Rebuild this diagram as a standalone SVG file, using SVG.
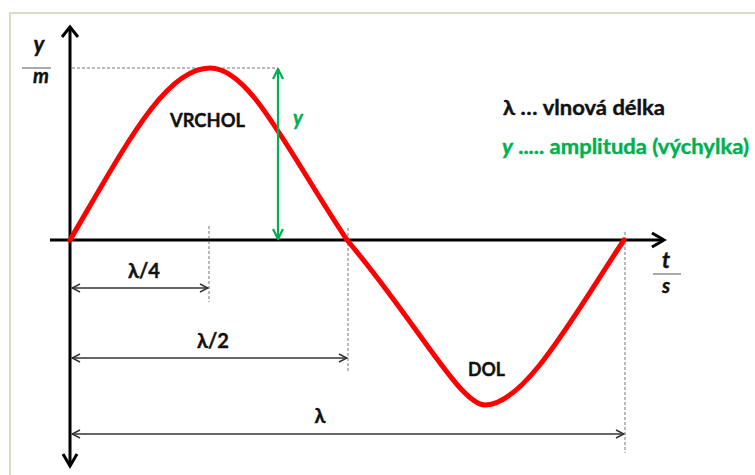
<svg xmlns="http://www.w3.org/2000/svg" width="755" height="475" viewBox="0 0 755 475">
<style>
.t{font-family:Lato,"Liberation Sans",sans-serif;font-weight:bold;fill:#111;stroke:#111;stroke-width:0.4}
.g{fill:#00B050;stroke:#00B050}
.i{font-style:italic}
.dash{stroke:#777;stroke-width:1;stroke-dasharray:3 2;fill:none}
.dim{stroke:#333;stroke-width:1.5;fill:none}
.ax{stroke:#000;stroke-width:3;fill:none}
</style>
<defs>
<marker id="dh" viewBox="0 0 10 10" refX="9" refY="5" markerWidth="10" markerHeight="10" markerUnits="userSpaceOnUse" orient="auto-start-reverse">
<path d="M1,1 L9,5 L1,9" fill="none" stroke="#333" stroke-width="1.5"/>
</marker>
<marker id="gh" viewBox="0 0 12 12" refX="11" refY="6" markerWidth="12" markerHeight="12" markerUnits="userSpaceOnUse" orient="auto-start-reverse">
<path d="M1,1 L11,6 L1,11" fill="none" stroke="#00B050" stroke-width="2.2"/>
</marker>
</defs>
<rect width="755" height="475" fill="#fff"/>
<path d="M10,475 V13 H755" fill="none" stroke="#DCDAC6" stroke-width="2"/>

<g id="axes">
<line class="ax" x1="70" y1="27" x2="70" y2="466"/>
<path class="ax" d="M62,37 L70,27 L78,37"/>
<path class="ax" d="M63,454 L70,466 L77,454"/>
<line class="ax" x1="50" y1="240" x2="664" y2="240"/>
<path class="ax" d="M652,233 L664,240 L652,247"/>
</g>

<g id="guides">
<line class="dash" x1="72" y1="68" x2="278" y2="68"/>
<line class="dash" x1="209" y1="226" x2="209" y2="302"/>
<line class="dash" x1="348" y1="228" x2="348" y2="373"/>
<line class="dash" x1="625" y1="232" x2="625" y2="453"/>
</g>

<g id="wave">
<path d="M70,240 C125,146.5 165,68 210,68 C250,68 287,150 347,240 C415,320 460,405 485,405 C525,405 574,315 624,240" fill="none" stroke="#FF0000" stroke-width="5" stroke-linecap="round"/>
</g>

<g id="connectors">
<line x1="278" y1="69" x2="278" y2="239" stroke="#00B050" stroke-width="2.2" marker-start="url(#gh)" marker-end="url(#gh)"/>
<line class="dim" x1="72" y1="288" x2="208" y2="288" marker-start="url(#dh)" marker-end="url(#dh)"/>
<line class="dim" x1="72" y1="358" x2="347" y2="358" marker-start="url(#dh)" marker-end="url(#dh)"/>
<line class="dim" x1="72" y1="434" x2="624" y2="434" marker-start="url(#dh)" marker-end="url(#dh)"/>
</g>

<g id="ylabel">
<text class="t i" x="39" y="52" font-size="22" text-anchor="middle">y</text>
<line x1="22" y1="68" x2="51" y2="68" stroke="#555" stroke-width="1"/>
<text class="t i" x="41" y="83" font-size="20" text-anchor="middle">m</text>
</g>
<g id="tlabel">
<text class="t i" x="666" y="268" font-size="22" text-anchor="middle">t</text>
<line x1="653" y1="274" x2="681" y2="274" stroke="#555" stroke-width="1"/>
<text class="t i" x="666" y="293" font-size="20" text-anchor="middle">s</text>
</g>

<g id="vrchol"><text class="t" x="170" y="127" font-size="19" textLength="75" lengthAdjust="spacingAndGlyphs">VRCHOL</text></g>
<g id="dol"><text class="t" x="468" y="376" font-size="19" textLength="37" lengthAdjust="spacingAndGlyphs">DOL</text></g>
<g id="amp-label"><text class="t g i" x="293" y="125" font-size="20">y</text></g>
<g id="l4"><text class="t" x="128" y="278" font-size="20" textLength="32" lengthAdjust="spacingAndGlyphs">λ/4</text></g>
<g id="l2"><text class="t" x="197" y="348" font-size="20" textLength="32" lengthAdjust="spacingAndGlyphs">λ/2</text></g>
<g id="l1"><text class="t" x="320" y="423" font-size="20" text-anchor="middle">λ</text></g>

<g id="legend">
<text class="t" x="503" y="115" font-size="20" textLength="162" lengthAdjust="spacingAndGlyphs">λ … vlnová délka</text>
<text class="t g" x="502" y="154" font-size="20" textLength="247" lengthAdjust="spacingAndGlyphs"><tspan class="i">y</tspan> ..... amplituda (výchylka)</text>
</g>
</svg>
